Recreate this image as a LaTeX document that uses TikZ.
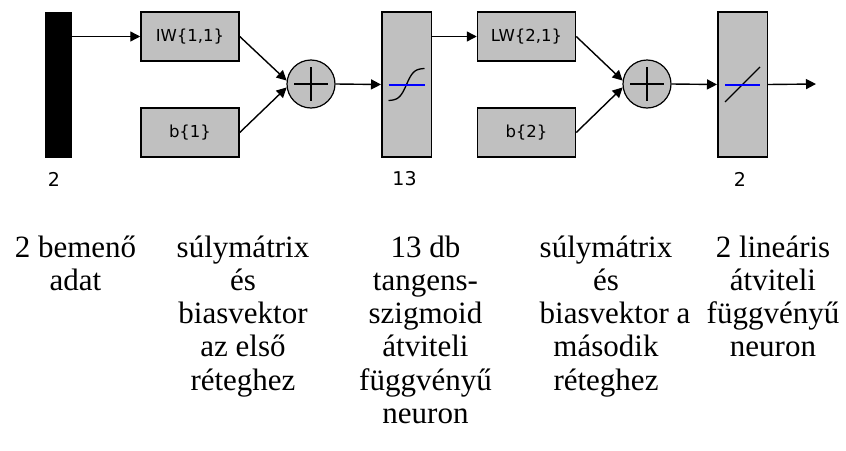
\documentclass[tikz,border=0pt]{standalone}
\usepackage{fontspec}
\setmainfont{Liberation Serif}
\newfontfamily\blockfont{DejaVu Sans}
\usetikzlibrary{arrows.meta,calc}
\definecolor{blockgray}{RGB}{192,192,192}
\definecolor{axisblue}{RGB}{0,0,255}
\tikzset{
  x=1pt, y=-1pt,
  blockline/.style={line width=1.5pt, draw=black},
  inbar/.style={fill=black, draw=black, minimum width=26pt, minimum height=145pt, inner sep=0pt},
  wbox/.style={blockline, fill=blockgray, minimum width=98pt, minimum height=49pt, inner sep=0pt,
    font=\blockfont\fontsize{16.5}{18}\selectfont},
  tfbox/.style={blockline, fill=blockgray, minimum width=49.5pt, minimum height=145pt, inner sep=0pt},
  sumnode/.style={circle, blockline, line width=1.2pt, fill=blockgray, minimum size=48pt, inner sep=0pt},
  sizelabel/.style={font=\blockfont\fontsize{19}{21}\selectfont, inner sep=0pt},
  arr/.style={line width=1.4pt, -{Triangle[length=10pt,width=10pt]}},
  % multi-line captions: the base anchor sits on the last line
  caption/.style={align=center, inner sep=0pt, anchor=base,
    font=\fontsize{31}{33.3}\selectfont},
  curve/.style={line width=1.3pt},
  zeroline/.style={draw=axisblue, line width=2pt},
}
\begin{document}
\begin{tikzpicture}
\useasboundingbox (0,0) rectangle (846,450);

% input vector
\node[inbar] (in) at (58,84.5) {};
\node[sizelabel] (nin) at (54,179) {2};

% first layer: weights, bias, sum, tansig
\node[wbox] (iw) at (190,36.5) {IW\{1,1\}};
\node[wbox] (b1) at (190,132.5) {b\{1\}};
\node[sumnode] (s1) at (311,84) {};
\draw[line width=1.4pt] ($(s1)+(-17,0)$) -- ($(s1)+(17,0)$) ($(s1)+(0,-17)$) -- ($(s1)+(0,17)$);
\node[tfbox] (t1) at (406.5,84.5) {};
\draw[curve, shift={(t1.center)}] plot[smooth, samples=31, domain=-1:1]
  ({18*\x}, {-16*tanh(2.5*\x)/tanh(2.5)});
\draw[zeroline] ($(t1.center)+(-18,0)$) -- ($(t1.center)+(18,0)$);
\node[sizelabel] (nt1) at (404.5,179) {13};

% second layer: weights, bias, sum, purelin
\node[wbox] (lw) at (526.5,36.5) {LW\{2,1\}};
\node[wbox] (b2) at (526.5,132.5) {b\{2\}};
\node[sumnode] (s2) at (647,84) {};
\draw[line width=1.4pt] ($(s2)+(-17,0)$) -- ($(s2)+(17,0)$) ($(s2)+(0,-17)$) -- ($(s2)+(0,17)$);
\node[tfbox] (p2) at (742.5,84.5) {};
\draw[curve] ($(p2.center)+(-17.5,17.5)$) -- ($(p2.center)+(17.5,-17.5)$);
\draw[zeroline] ($(p2.center)+(-17.5,0)$) -- ($(p2.center)+(17.5,0)$);
\node[sizelabel] (np2) at (740,179) {2};
\coordinate (out) at (816,84);

% signal flow
\draw[arr] (iw.west -| in.east) -- (iw.west);
\draw[arr] (iw.east) -- (s1.172);
\draw[arr] (b1.east) -- (s1.188);
\draw[arr] (s1.east) -- (t1.west);
\draw[arr] (lw.west -| t1.east) -- (lw.west);
\draw[arr] (lw.east) -- (s2.172);
\draw[arr] (b2.east) -- (s2.188);
\draw[arr] (s2.east) -- (p2.west);
\draw[arr] (p2.east) -- (out);

% descriptions (first baseline at 257, lines 33.3 apart)
\node[caption] (c1) at (75.5,290.3) {2 bemenő\\adat};
\node[caption] (c2) at (243,390.2) {súlymátrix\\és\\biasvektor\\az első\\réteghez};
\node[caption] (c3) at (425.5,423.5) {13 db\\tangens-\\szigmoid\\átviteli\\függvényű\\neuron};
\node[caption] (c4) at (606,390.2) {súlymátrix\\és\\\hspace*{18pt}biasvektor a\\második\\réteghez};
\node[caption] (c5) at (773,356.9) {2 lineáris\\átviteli\\függvényű\\neuron};
\end{tikzpicture}
\end{document}
